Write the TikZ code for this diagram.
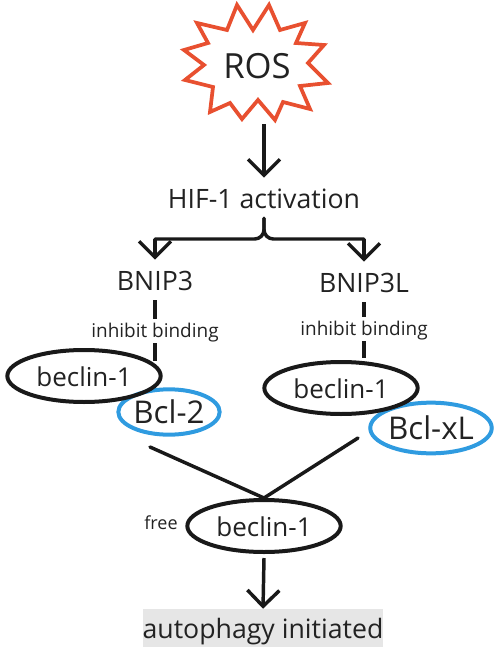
\documentclass[tikz,border=0pt]{standalone}
\usepackage{fontspec}
\setmainfont{Open Sans}
\definecolor{rosred}{RGB}{232,80,48}
\definecolor{bclblue}{RGB}{47,155,224}
\definecolor{inkgray}{RGB}{34,34,34}
\definecolor{boxgray}{RGB}{230,230,230}
\usetikzlibrary{arrows.meta,positioning,shapes.geometric,calc}

\begin{document}
\begin{tikzpicture}[x=0.75pt,y=-0.75pt,
  label/.style={inner sep=0pt,text=inkgray,font=\fontsize{20}{24}\selectfont,text height=15pt,text depth=0pt,align=center},
  small/.style={inner sep=0pt,text=inkgray,font=\fontsize{14.2}{16}\selectfont,text height=10pt,text depth=0pt},
  protein/.style={draw=black!90,ellipse,line width=3pt,inner sep=0pt,text=inkgray,font=\fontsize{19.5}{24}\selectfont,text height=15pt,text depth=0pt},
  partner/.style={protein,draw=bclblue,font=\fontsize{23.5}{28}\selectfont,text height=17pt},
  link/.style={draw=black!90,line width=2.6pt,line cap=round},
  pointer/.style={draw=black!90,line width=2.6pt,-{Straight Barb[length=12pt,width=24pt,line width=2.6pt]}}]
  \useasboundingbox (0,0) rectangle (498,649);
  % Star
  \draw[rosred,line width=2.8pt,line join=miter,miter limit=10]
    (237,5) -- (253,30) -- (269,5) -- (280,30) -- (305,23) -- (296,43) -- (324,45) -- (308,63)
    -- (328,83) -- (300,86) -- (310,109) -- (283,102) -- (275,120) -- (258,100) -- (242,119)
    -- (230,103) -- (210,112) -- (213,87) -- (185,80) -- (204,65) -- (184,50) -- (208,43)
    -- (197,23) -- (227,30) -- cycle;
  \node[inner sep=0pt,text=inkgray,font=\fontsize{26}{30}\selectfont,text height=19pt,text depth=0pt,minimum height=87pt] (ros) at (257,66) {ROS};
  % Top
  \node[label,minimum height=30pt] (hif) at (264,198) {HIF-1 activation};
  \node[label,minimum height=30pt] (bnipa) at (155,280) {BNIP3};
  \node[label,minimum height=30pt] (bnipb) at (364,282) {BNIP3L};
  \coordinate (fork) at (264,239);
  % Inhibit
  \node[small,minimum height=18pt] (inhiba) at (155,331) {inhibit binding};
  \node[small,minimum height=18pt] (inhibb) at (364,329) {inhibit binding};
  % Complexes
  \node[partner,minimum width=76pt,minimum height=34pt] (bcla) at (169,412) {Bcl-2};
  \node[partner,minimum width=89pt,minimum height=38pt] (bclb) at (431,428) {Bcl-xL};
  \node[protein,minimum width=115pt,minimum height=39pt] (beca) at (84,376) {beclin-1};
  \node[protein,minimum width=115pt,minimum height=39pt] (becb) at (341,388) {beclin-1};
  \coordinate (enda) at (155,361);
  \coordinate (endb) at (364,358);
  \coordinate (joina) at (150,447);
  \coordinate (joinb) at (358,438);
  % Bottom
  \node[protein,minimum width=115pt,minimum height=39pt] (free) at (264,526) {beclin-1};
  \node[small,font=\fontsize{13.5}{16}\selectfont] (freetext) at (161,523) {free};
  \node[label,fill=boxgray,minimum width=180pt,minimum height=28.5pt,text depth=0pt] (auto) at (263,628) {autophagy initiated};
  % Arrows
  \draw[pointer] (ros.south -| hif.north) -- (hif.north);
  \draw[link,rounded corners=7pt] (hif.south) -- (fork) -- (fork -| bnipa);
  \draw[link,rounded corners=7pt] (hif.south) -- (fork) -- (fork -| bnipb);
  \draw[pointer] (fork -| bnipa) -- (bnipa.north);
  \draw[pointer] (fork -| bnipb) -- (bnipb.north);
  \draw[link,line cap=butt] (bnipa.south) -- (inhiba.north);
  \draw[link,line cap=butt] (inhiba.south) -- (enda);
  \draw[link,line cap=butt] (bnipb.south) -- (inhibb.north);
  \draw[link,line cap=butt] (inhibb.south) -- (endb);
  \draw[link] (joina) -- (free.north);
  \draw[link] (joinb) -- (free.north);
  \draw[pointer] ($(free.south)+(0,4)$) -- (auto.north);
\end{tikzpicture}
\end{document}
